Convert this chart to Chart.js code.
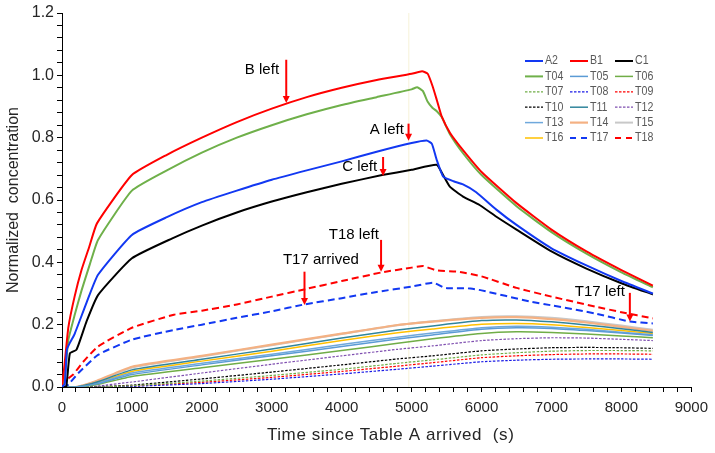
<!DOCTYPE html>
<html>
<head>
<meta charset="utf-8">
<script src="https://cdn.jsdelivr.net/npm/chart.js@4.4.1/dist/chart.umd.min.js"></script>
<style>
html, body { margin: 0; padding: 0; background: #fff; }
canvas { display: block; }
</style>
</head>
<body>
<canvas id="chart" width="715" height="453"></canvas>
<script>
// main tables (time in s, normalized concentration)
const tB1 = [0, 40, 90, 180, 280, 390, 500, 1000, 1500, 2000, 2500, 3000, 3500, 4000, 4500, 5000, 5150, 5230, 5300, 5360, 5430, 5550, 5735, 6000, 6500, 7000, 7500, 8000, 8450];
const vB1 = [0, 0.08, 0.19, 0.29, 0.376, 0.45, 0.525, 0.68, 0.745, 0.80, 0.85, 0.893, 0.93, 0.96, 0.985, 1.005, 1.013, 1.005, 0.965, 0.921, 0.868, 0.815, 0.76, 0.69, 0.59, 0.505, 0.435, 0.375, 0.325];

const tT04 = [0, 40, 90, 180, 280, 400, 515, 1000, 1500, 2000, 2500, 3000, 3500, 4000, 4500, 5000, 5080, 5160, 5230, 5300, 5360, 5430, 5550, 5735, 6000, 6500, 7000, 7500, 8000, 8450];
const vT04 = [0, 0.03, 0.15, 0.23, 0.31, 0.395, 0.472, 0.63, 0.695, 0.752, 0.80, 0.84, 0.875, 0.905, 0.93, 0.955, 0.962, 0.95, 0.915, 0.895, 0.885, 0.866, 0.81, 0.75, 0.68, 0.58, 0.497, 0.428, 0.368, 0.32];

const tA2 = [0, 40, 70, 120, 180, 350, 515, 1000, 1500, 2000, 2500, 3000, 3500, 4000, 4500, 5000, 5215, 5290, 5357, 5452, 5600, 5735, 5924, 6207, 6500, 7000, 7500, 8000, 8450];
const vA2 = [0, 0.01, 0.12, 0.145, 0.17, 0.27, 0.36, 0.488, 0.545, 0.593, 0.63, 0.665, 0.695, 0.724, 0.755, 0.783, 0.791, 0.78, 0.73, 0.675, 0.66, 0.65, 0.625, 0.57, 0.52, 0.445, 0.39, 0.34, 0.30];

const tC1 = [0, 60, 113, 208, 350, 515, 1000, 1578, 2000, 2500, 3000, 3500, 4000, 4578, 5000, 5357, 5450, 5546, 5735, 5971, 6207, 6500, 7000, 7500, 8000, 8450];
const vC1 = [0, 0.0, 0.108, 0.12, 0.21, 0.295, 0.413, 0.477, 0.518, 0.56, 0.595, 0.625, 0.652, 0.68, 0.697, 0.713, 0.68, 0.643, 0.611, 0.584, 0.547, 0.505, 0.435, 0.38, 0.333, 0.297];

const tT18 = [0, 50, 160, 300, 515, 1000, 1600, 2000, 2500, 3000, 3500, 4000, 4578, 5000, 5168, 5357, 5665, 6000, 6500, 7000, 7625, 8000, 8450];
const vT18 = [0, 0.02, 0.04, 0.08, 0.13, 0.19, 0.232, 0.245, 0.265, 0.29, 0.315, 0.34, 0.368, 0.383, 0.388, 0.374, 0.37, 0.355, 0.318, 0.29, 0.258, 0.24, 0.22];

const tT17 = [0, 40, 100, 231, 515, 1000, 1600, 2000, 2500, 3000, 3468, 4000, 4500, 5000, 5310, 5450, 5523, 5806, 6000, 6680, 7000, 7625, 8121, 8450];
const vT17 = [0, 0, 0.01, 0.044, 0.103, 0.152, 0.183, 0.2, 0.222, 0.243, 0.265, 0.285, 0.305, 0.322, 0.335, 0.32, 0.317, 0.317, 0.31, 0.275, 0.262, 0.236, 0.21, 0.204];

// lower sensors share one time grid
const tLow = [0, 200, 500, 1000, 2000, 3000, 4000, 4800, 5300, 6000, 6500, 7000, 7500, 8000, 8450];
const vT05 = [0, 0, 0.01, 0.04, 0.071, 0.1, 0.13, 0.154, 0.167, 0.185, 0.19, 0.188, 0.181, 0.173, 0.165];
const vT06 = [0, 0, 0.008, 0.034, 0.062, 0.089, 0.117, 0.14, 0.155, 0.172, 0.177, 0.175, 0.17, 0.164, 0.158];
const vT07 = [0, 0, 0, 0.004, 0.019, 0.037, 0.057, 0.076, 0.087, 0.103, 0.11, 0.115, 0.117, 0.117, 0.116];
const vT08 = [0, 0, 0, 0.002, 0.011, 0.025, 0.042, 0.057, 0.067, 0.081, 0.086, 0.089, 0.09, 0.09, 0.089];
const vT09 = [0, 0, 0, 0.003, 0.015, 0.031, 0.05, 0.067, 0.078, 0.094, 0.1, 0.104, 0.106, 0.106, 0.105];
const vT10 = [0, 0, 0.001, 0.006, 0.026, 0.048, 0.071, 0.09, 0.1, 0.116, 0.122, 0.126, 0.127, 0.126, 0.124];
const vT11 = [0, 0, 0.016, 0.055, 0.089, 0.122, 0.157, 0.183, 0.196, 0.213, 0.215, 0.209, 0.199, 0.187, 0.175];
const vT12 = [0, 0, 0.003, 0.016, 0.045, 0.073, 0.1, 0.121, 0.132, 0.149, 0.155, 0.158, 0.157, 0.153, 0.149];
const vT13 = [0, 0, 0.012, 0.045, 0.076, 0.105, 0.136, 0.16, 0.173, 0.19, 0.195, 0.192, 0.185, 0.176, 0.168];
const vT14 = [0, 0, 0.02, 0.065, 0.1, 0.136, 0.171, 0.199, 0.21, 0.222, 0.224, 0.218, 0.207, 0.193, 0.18];
const vT15 = [0, 0, 0.018, 0.062, 0.098, 0.134, 0.17, 0.198, 0.211, 0.225, 0.227, 0.222, 0.211, 0.197, 0.184];
const vT16 = [0, 0, 0.014, 0.05, 0.083, 0.115, 0.149, 0.174, 0.186, 0.201, 0.204, 0.2, 0.191, 0.181, 0.172];

const xTickLabels = ['0', '1000', '2000', '3000', '4000', '5000', '6000', '7000', '8000', '9000'];
const yTickLabels = ['0.0', '0.2', '0.4', '0.6', '0.8', '1.0', '1.2'];

const markTime = 4960;

const notes = [
    {text: 'B left',      at: 3207, from: 1.05,  to: 0.911, tx: 3104, ty: 1.018, align: 'right'},
    {text: 'A left',      at: 4956, from: 0.845, to: 0.79,  tx: 4889, ty: 0.825, align: 'right'},
    {text: 'C left',      at: 4592, from: 0.738, to: 0.677, tx: 4507, ty: 0.706, align: 'right'},
    {text: 'T18 left',    at: 4563, from: 0.472, to: 0.37,  tx: 4531, ty: 0.488, align: 'right'},
    {text: 'T17 arrived', at: 3468, from: 0.37,  to: 0.263, tx: 3160, ty: 0.408, align: 'left'},
    {text: 'T17 left',    at: 8121, from: 0.302, to: 0.21,  tx: 8050, ty: 0.305, align: 'right'}
];

function pts(t, v){
    return t.map((x, i) => ({x: x, y: v[i]}));
}

const DOT = [2.5, 1.5];
const DASH = [7, 4];

// legend order = dataset order
const series = [
    {label: 'A2',  t: tA2,  v: vA2,  color: '#1238f2', width: 2},
    {label: 'B1',  t: tB1,  v: vB1,  color: '#ff0000', width: 2},
    {label: 'C1',  t: tC1,  v: vC1,  color: '#000000', width: 2},
    {label: 'T04', t: tT04, v: vT04, color: '#6fb04a', width: 2},
    {label: 'T05', t: tLow, v: vT05, color: '#5b9bd5', width: 1.5},
    {label: 'T06', t: tLow, v: vT06, color: '#70ad47', width: 1.5},
    {label: 'T07', t: tLow, v: vT07, color: '#70ad47', width: 1.2, dash: DOT},
    {label: 'T08', t: tLow, v: vT08, color: '#1a1ae6', width: 1.2, dash: DOT},
    {label: 'T09', t: tLow, v: vT09, color: '#ff0000', width: 1.2, dash: DOT},
    {label: 'T10', t: tLow, v: vT10, color: '#000000', width: 1.2, dash: DOT},
    {label: 'T11', t: tLow, v: vT11, color: '#31859c', width: 1.5},
    {label: 'T12', t: tLow, v: vT12, color: '#7f4fb0', width: 1.2, dash: DOT},
    {label: 'T13', t: tLow, v: vT13, color: '#6fa8dc', width: 1.5},
    {label: 'T14', t: tLow, v: vT14, color: '#f4b183', width: 2.2},
    {label: 'T15', t: tLow, v: vT15, color: '#c8c8c8', width: 2},
    {label: 'T16', t: tLow, v: vT16, color: '#ffc000', width: 1.5},
    {label: 'T17', t: tT17, v: vT17, color: '#1238f2', width: 2, dash: DASH},
    {label: 'T18', t: tT18, v: vT18, color: '#ff0000', width: 2, dash: DASH}
];

// light bezier smoothing: keeps the early kinks, rounds the long arcs
const datasets = series.map(s => ({
    label: s.label,
    data: pts(s.t, s.v),
    borderColor: s.color,
    borderWidth: s.width,
    borderDash: s.dash || [],
    fill: false,
    pointRadius: 0,
    tension: 0.15
}));

const FONT = '"Liberation Sans", Arial, sans-serif';

const overlay = {
    id: 'overlay',
    beforeDatasetsDraw(chart){
        const ctx = chart.ctx, xs = chart.scales.x, area = chart.chartArea;
        let x = xs.getPixelForValue(markTime);
        ctx.save();
        ctx.strokeStyle = 'rgba(238,228,170,0.45)';
        ctx.lineWidth = 1;
        ctx.beginPath();
        ctx.moveTo(x, area.top);
        ctx.lineTo(x, area.bottom);
        ctx.stroke();
        ctx.restore();
    },
    afterDatasetsDraw(chart){
        const ctx = chart.ctx, xs = chart.scales.x, ys = chart.scales.y, area = chart.chartArea;
        ctx.save();
        // arrows + notes
        notes.forEach(n => {
            let x = xs.getPixelForValue(n.at);
            let y0 = ys.getPixelForValue(n.from);
            let y1 = ys.getPixelForValue(n.to);
            ctx.strokeStyle = '#ff0000';
            ctx.fillStyle = '#ff0000';
            ctx.lineWidth = 2;
            ctx.beginPath();
            ctx.moveTo(x, y0);
            ctx.lineTo(x, y1 - 6);
            ctx.stroke();
            ctx.beginPath();
            ctx.moveTo(x - 3.5, y1 - 7);
            ctx.lineTo(x + 3.5, y1 - 7);
            ctx.lineTo(x, y1);
            ctx.closePath();
            ctx.fill();

            ctx.fillStyle = '#000';
            ctx.font = '15px ' + FONT;
            ctx.textAlign = n.align;
            ctx.textBaseline = 'middle';
            ctx.fillText(n.text, xs.getPixelForValue(n.tx), ys.getPixelForValue(n.ty));
        });

        // legend, 3 columns
        const colX = [525, 570, 615];
        chart.data.datasets.forEach((ds, i) => {
            let col = i % 3, row = Math.floor(i / 3);
            let x = colX[col], y = 61 + row * 15.4;
            ctx.strokeStyle = ds.borderColor;
            ctx.lineWidth = ds.borderWidth;
            ctx.setLineDash(ds.borderDash.length ? (ds.borderDash === DASH ? [6, 5] : ds.borderDash) : []);
            ctx.beginPath();
            ctx.moveTo(x, y);
            ctx.lineTo(x + 18, y);
            ctx.stroke();
            ctx.setLineDash([]);
            ctx.save();
            ctx.translate(x + 20, y);
            ctx.scale(0.85, 1);
            ctx.fillStyle = '#595959';
            ctx.font = '12.5px ' + FONT;
            ctx.textAlign = 'left';
            ctx.textBaseline = 'middle';
            ctx.fillText(ds.label, 0, 0);
            ctx.restore();
        });

        // x axis title, sits a little right of centre in the original
        ctx.fillStyle = '#262626';
        ctx.font = '17px ' + FONT;
        if ('letterSpacing' in ctx) ctx.letterSpacing = '0.6px';
        ctx.textAlign = 'center';
        ctx.textBaseline = 'middle';
        ctx.fillText('Time since Table A arrived  (s)', (area.left + area.right) / 2 + 14, 435);
        ctx.restore();
    }
};

const ctx = document.getElementById('chart').getContext('2d');
const chart = new Chart(ctx, {
    type: 'line',
    data: {datasets: datasets},
    options: {
        responsive: false,
        animation: false,
        layout: {padding: {top: 13, right: 18, left: 0, bottom: 0}},
        plugins: {legend: {display: false}, tooltip: {enabled: false}},
        scales: {
            x: {
                type: 'linear', min: 0, max: 9000,
                ticks: {
                    stepSize: 200, autoSkip: false, maxRotation: 0, padding: 7,
                    color: '#262626', font: {family: FONT, size: 15},
                    callback: v => (Math.round(v) % 1000 === 0 ? xTickLabels[Math.round(v) / 1000] : '')
                },
                grid: {drawOnChartArea: false, tickLength: 5, color: '#000'},
                border: {color: '#000', width: 1},
                afterFit: s => { s.height = 66; }
            },
            y: {
                type: 'linear', min: 0, max: 1.2,
                ticks: {
                    stepSize: 0.04, autoSkip: false, padding: 3,
                    color: '#262626', font: {family: FONT, size: 16},
                    callback: v => { let r = Math.round(v * 100); return r % 20 === 0 ? yTickLabels[r / 20] : ''; }
                },
                grid: {drawOnChartArea: false, tickLength: 5, color: '#000'},
                border: {color: '#000', width: 1},
                title: {display: true, text: 'Normalized  concentration', color: '#262626', font: {family: FONT, size: 16}, padding: {top: 4, bottom: 4}},
                afterFit: s => { s.width = 62; }
            }
        }
    },
    plugins: [overlay]
});
</script>
</body>
</html>
